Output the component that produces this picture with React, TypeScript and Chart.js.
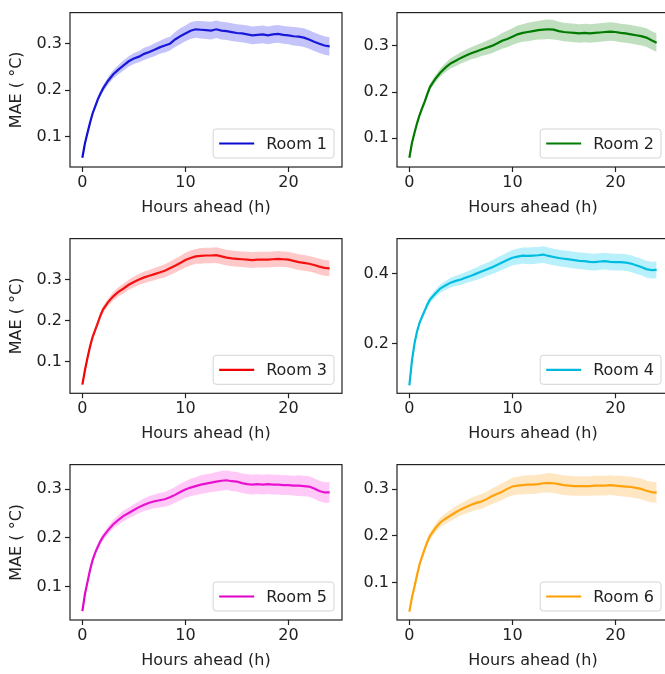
import React, { useEffect, useRef } from 'react';
import { Chart, registerables } from 'chart.js';

Chart.register(...registerables);

// ---------- data ----------
const HOURS = [0, 0.25, 0.5, 0.75, 1, 1.25, 1.5, 1.75, 2,
  2.5, 3, 3.5, 4, 4.5, 5, 5.5, 6,
  6.5, 7, 7.5, 8, 8.5, 9, 9.5, 10,
  10.5, 11, 11.5, 12, 12.5, 13, 13.5, 14,
  14.5, 15, 15.5, 16, 16.5, 17, 17.5, 18,
  18.5, 19, 19.5, 20, 20.5, 21, 21.5, 22,
  22.5, 23, 23.5, 24];

const ROOM1_MAE = [0.054, 0.085, 0.108, 0.130, 0.150, 0.165, 0.180, 0.192, 0.203,
  0.220, 0.234, 0.244, 0.253, 0.262, 0.268, 0.272, 0.278,
  0.282, 0.287, 0.292, 0.296, 0.300, 0.309, 0.316, 0.322,
  0.328, 0.331, 0.330, 0.329, 0.328, 0.331, 0.328, 0.327,
  0.325, 0.323, 0.322, 0.320, 0.318, 0.319, 0.320, 0.318,
  0.320, 0.321, 0.319, 0.318, 0.316, 0.315, 0.313, 0.309,
  0.304, 0.300, 0.296, 0.294];
const ROOM1_SPREAD = [0.002, 0.003, 0.004, 0.004, 0.005, 0.005, 0.006, 0.006, 0.007,
  0.008, 0.009, 0.010, 0.011, 0.011, 0.012, 0.012, 0.013,
  0.013, 0.014, 0.014, 0.015, 0.015, 0.016, 0.017, 0.017,
  0.018, 0.018, 0.019, 0.019, 0.019, 0.019, 0.019, 0.019,
  0.019, 0.019, 0.019, 0.019, 0.019, 0.019, 0.019, 0.019,
  0.019, 0.019, 0.019, 0.019, 0.020, 0.020, 0.020, 0.020,
  0.020, 0.020, 0.020, 0.020];

const ROOM2_MAE = [0.058, 0.090, 0.112, 0.133, 0.151, 0.166, 0.180, 0.196, 0.211,
  0.228, 0.242, 0.253, 0.262, 0.268, 0.274, 0.279, 0.284,
  0.288, 0.292, 0.296, 0.300, 0.305, 0.311, 0.315, 0.320,
  0.325, 0.328, 0.330, 0.332, 0.334, 0.335, 0.336, 0.335,
  0.332, 0.330, 0.329, 0.328, 0.327, 0.328, 0.327, 0.328,
  0.329, 0.330, 0.331, 0.330, 0.328, 0.327, 0.325, 0.323,
  0.321, 0.318, 0.312, 0.307];
const ROOM2_SPREAD = [0.002, 0.003, 0.004, 0.005, 0.005, 0.006, 0.006, 0.007, 0.007,
  0.008, 0.009, 0.010, 0.011, 0.012, 0.012, 0.013, 0.013,
  0.014, 0.014, 0.015, 0.016, 0.016, 0.017, 0.018, 0.018,
  0.019, 0.019, 0.020, 0.020, 0.020, 0.021, 0.021, 0.021,
  0.020, 0.020, 0.020, 0.020, 0.020, 0.020, 0.020, 0.020,
  0.020, 0.020, 0.020, 0.020, 0.020, 0.020, 0.020, 0.020,
  0.020, 0.020, 0.020, 0.020];

const ROOM3_MAE = [0.045, 0.080, 0.110, 0.138, 0.161, 0.178, 0.195, 0.212, 0.227,
  0.245, 0.259, 0.270, 0.278, 0.287, 0.294, 0.300, 0.305,
  0.309, 0.313, 0.317, 0.321, 0.327, 0.333, 0.340, 0.347,
  0.352, 0.356, 0.357, 0.358, 0.358, 0.359, 0.356, 0.353,
  0.351, 0.350, 0.349, 0.348, 0.347, 0.348, 0.348, 0.348,
  0.349, 0.350, 0.349, 0.348, 0.345, 0.342, 0.340, 0.338,
  0.335, 0.331, 0.328, 0.327];
const ROOM3_SPREAD = [0.002, 0.003, 0.004, 0.005, 0.005, 0.006, 0.007, 0.007, 0.008,
  0.009, 0.010, 0.011, 0.012, 0.012, 0.013, 0.013, 0.014,
  0.014, 0.015, 0.015, 0.016, 0.016, 0.017, 0.017, 0.018,
  0.018, 0.018, 0.019, 0.019, 0.019, 0.019, 0.019, 0.019,
  0.019, 0.019, 0.019, 0.019, 0.019, 0.019, 0.019, 0.019,
  0.019, 0.019, 0.019, 0.019, 0.019, 0.019, 0.019, 0.019,
  0.019, 0.019, 0.019, 0.019];

const ROOM4_MAE = [0.079, 0.150, 0.200, 0.235, 0.260, 0.278, 0.295, 0.312, 0.326,
  0.343, 0.358, 0.367, 0.375, 0.380, 0.384, 0.390, 0.395,
  0.401, 0.407, 0.413, 0.419, 0.426, 0.433, 0.440, 0.447,
  0.450, 0.453, 0.452, 0.453, 0.454, 0.456, 0.452, 0.449,
  0.446, 0.444, 0.442, 0.440, 0.438, 0.437, 0.435, 0.434,
  0.436, 0.437, 0.435, 0.434, 0.434, 0.433, 0.430, 0.425,
  0.420, 0.414, 0.411, 0.412];
const ROOM4_SPREAD = [0.003, 0.004, 0.005, 0.006, 0.007, 0.008, 0.009, 0.010, 0.010,
  0.011, 0.012, 0.013, 0.014, 0.015, 0.016, 0.016, 0.017,
  0.018, 0.019, 0.019, 0.020, 0.021, 0.021, 0.022, 0.022,
  0.023, 0.023, 0.024, 0.024, 0.024, 0.024, 0.024, 0.024,
  0.024, 0.024, 0.024, 0.024, 0.024, 0.024, 0.024, 0.024,
  0.024, 0.024, 0.024, 0.024, 0.024, 0.024, 0.024, 0.024,
  0.024, 0.024, 0.024, 0.024];

const ROOM5_MAE = [0.050, 0.085, 0.110, 0.135, 0.155, 0.170, 0.182, 0.193, 0.202,
  0.216, 0.228, 0.237, 0.245, 0.251, 0.257, 0.263, 0.268,
  0.272, 0.275, 0.277, 0.279, 0.283, 0.288, 0.294, 0.299,
  0.303, 0.306, 0.309, 0.311, 0.313, 0.315, 0.317, 0.318,
  0.316, 0.315, 0.312, 0.310, 0.309, 0.310, 0.309, 0.310,
  0.309, 0.309, 0.308, 0.308, 0.307, 0.307, 0.306, 0.305,
  0.301, 0.296, 0.293, 0.293];
const ROOM5_SPREAD = [0.002, 0.003, 0.004, 0.005, 0.005, 0.006, 0.006, 0.007, 0.007,
  0.008, 0.009, 0.010, 0.011, 0.011, 0.012, 0.012, 0.013,
  0.014, 0.014, 0.015, 0.015, 0.016, 0.016, 0.017, 0.017,
  0.018, 0.018, 0.019, 0.019, 0.019, 0.020, 0.020, 0.020,
  0.020, 0.020, 0.020, 0.020, 0.020, 0.020, 0.020, 0.020,
  0.020, 0.020, 0.020, 0.020, 0.020, 0.021, 0.021, 0.021,
  0.021, 0.021, 0.021, 0.021];

const ROOM6_MAE = [0.038, 0.068, 0.092, 0.117, 0.140, 0.157, 0.173, 0.188, 0.200,
  0.216, 0.229, 0.237, 0.244, 0.251, 0.257, 0.262, 0.267,
  0.271, 0.274, 0.279, 0.285, 0.290, 0.295, 0.301, 0.306,
  0.308, 0.309, 0.310, 0.310, 0.311, 0.313, 0.314, 0.313,
  0.311, 0.309, 0.308, 0.307, 0.307, 0.307, 0.307, 0.308,
  0.308, 0.308, 0.309, 0.308, 0.307, 0.306, 0.305, 0.303,
  0.301, 0.297, 0.294, 0.293];
const ROOM6_SPREAD = [0.002, 0.003, 0.004, 0.005, 0.006, 0.006, 0.007, 0.008, 0.008,
  0.009, 0.010, 0.011, 0.012, 0.013, 0.013, 0.014, 0.015,
  0.015, 0.016, 0.016, 0.017, 0.017, 0.018, 0.018, 0.019,
  0.019, 0.020, 0.020, 0.020, 0.020, 0.020, 0.021, 0.021,
  0.021, 0.021, 0.021, 0.021, 0.021, 0.021, 0.021, 0.021,
  0.021, 0.021, 0.021, 0.021, 0.022, 0.022, 0.022, 0.022,
  0.022, 0.022, 0.022, 0.022];

const ROOM_LABELS = ['Room 1', 'Room 2', 'Room 3', 'Room 4', 'Room 5', 'Room 6'];
const ROOM_MEANS = [ROOM1_MAE, ROOM2_MAE, ROOM3_MAE, ROOM4_MAE, ROOM5_MAE, ROOM6_MAE];
const ROOM_SPREADS = [ROOM1_SPREAD, ROOM2_SPREAD, ROOM3_SPREAD, ROOM4_SPREAD, ROOM5_SPREAD, ROOM6_SPREAD];

const Y_MIN = [0.034, 0.038, 0.024, 0.056, 0.032, 0.020];
const Y_MAX = [0.367, 0.372, 0.399, 0.502, 0.350, 0.353];
const Y_TICKS_MAIN = [0.1, 0.2, 0.3];
const Y_TICKS_ROOM4 = [0.2, 0.4];
const X_TICKS = [0, 10, 20];
const X_MIN = -1.2;
const X_MAX = 25.2;

const X_TITLE = 'Hours ahead (h)';
const Y_TITLE = 'MAE ( °C)';

// ---------- style ----------
const LINE_COLORS = ['#0a0ad0', '#007a00', '#f00000', '#00b8dc', '#e000c8', '#ffa000'];
const BAND_COLORS = [
  'rgba(60, 60, 240, 0.30)',
  'rgba(0, 128, 0, 0.25)',
  'rgba(255, 60, 60, 0.28)',
  'rgba(0, 200, 240, 0.28)',
  'rgba(255, 60, 230, 0.28)',
  'rgba(255, 170, 40, 0.28)',
];
const FONT = '"DejaVu Sans", sans-serif';
const FONT_SIZE = 16;
const LINE_H = FONT_SIZE * 1.2;
const TEXT_COLOR = '#222222';

// page layout (px)
const COLS = [
  { cx: 0, cw: 346, L: 70, R: 342 },
  { cx: 346, cw: 334, L: 397, R: 669 },
];
const ROWS = [
  { cy: 0, ch: 226, T: 7.5, B: 167 },
  { cy: 226, ch: 226, T: 233.3, B: 393.3 },
  { cy: 452, ch: 222, T: 460.7, B: 620 },
];

const framePlugin = {
  id: 'frame',
  afterDraw(chart: any) {
    const { ctx, chartArea: a } = chart;
    ctx.save();
    ctx.strokeStyle = TEXT_COLOR;
    ctx.lineWidth = 1.2;
    ctx.strokeRect(a.left, a.top, a.right - a.left, a.bottom - a.top);
    ctx.restore();
  },
};

const boxLegendPlugin = {
  id: 'boxLegend',
  afterDraw(chart: any) {
    const ds = chart.data.datasets[2];
    const { ctx, chartArea: a } = chart;
    ctx.save();
    ctx.font = `${FONT_SIZE}px ${FONT}`;
    const tw = ctx.measureText(ds.label).width;
    const w = 6 + 35 + 12 + tw + 7;
    const h = 29;
    const x = a.right - 8 - w;
    const y = a.bottom - 9 - h;
    ctx.beginPath();
    ctx.roundRect(x, y, w, h, 3);
    ctx.fillStyle = 'rgba(255,255,255,0.85)';
    ctx.fill();
    ctx.strokeStyle = '#d4d4d4';
    ctx.lineWidth = 1;
    ctx.stroke();
    ctx.beginPath();
    ctx.moveTo(x + 6, y + h / 2);
    ctx.lineTo(x + 41, y + h / 2);
    ctx.strokeStyle = ds.borderColor;
    ctx.lineWidth = 2.2;
    ctx.stroke();
    ctx.fillStyle = TEXT_COLOR;
    ctx.textBaseline = 'middle';
    ctx.textAlign = 'left';
    ctx.fillText(ds.label, x + 53, y + h / 2 + 1);
    ctx.restore();
  },
};

function Panel({ idx }: { idx: number }) {
  const ref = useRef<HTMLCanvasElement>(null);
  const col = COLS[idx % 2];
  const row = ROWS[Math.floor(idx / 2)];
  const showYTitle = idx % 2 === 0;

  useEffect(() => {
    const mean = ROOM_MEANS[idx];
    const spread = ROOM_SPREADS[idx];
    const lower = HOURS.map((h, i) => ({ x: h, y: mean[i] - spread[i] }));
    const upper = HOURS.map((h, i) => ({ x: h, y: mean[i] + spread[i] }));
    const line = HOURS.map((h, i) => ({ x: h, y: mean[i] }));
    const yTicks = idx === 3 ? Y_TICKS_ROOM4 : Y_TICKS_MAIN;

    const padTop = row.T - row.cy;
    const padRight = col.cx + col.cw - col.R;
    const xAxisH = row.cy + row.ch - row.B;
    const yAxisW = col.L - col.cx;
    const xTitlePadBottom = Math.max(0, row.cy + row.ch - (row.B + 41) - LINE_H / 2);

    const font = { family: FONT, size: FONT_SIZE };

    const chart = new Chart(ref.current as HTMLCanvasElement, {
      type: 'line',
      data: {
        datasets: [
          {
            label: 'lower',
            data: lower,
            borderWidth: 0,
            borderColor: 'rgba(0,0,0,0)',
            pointRadius: 0,
            fill: false,
          },
          {
            label: 'upper',
            data: upper,
            borderWidth: 0,
            borderColor: 'rgba(0,0,0,0)',
            backgroundColor: BAND_COLORS[idx],
            pointRadius: 0,
            fill: '-1',
          },
          {
            label: ROOM_LABELS[idx],
            data: line,
            borderColor: LINE_COLORS[idx],
            borderWidth: 2.2,
            pointRadius: 0,
            fill: false,
            tension: 0,
          },
        ],
      },
      options: {
        animation: false,
        responsive: false,
        devicePixelRatio: 1,
        layout: { padding: { top: padTop, right: padRight, left: 0, bottom: 0 } },
        plugins: {
          legend: { display: false },
          tooltip: { enabled: false },
        },
        scales: {
          x: {
            type: 'linear',
            min: X_MIN,
            max: X_MAX,
            afterBuildTicks: (s: any) => {
              s.ticks = X_TICKS.map((v) => ({ value: v }));
            },
            afterFit: (s: any) => {
              s.height = xAxisH;
            },
            ticks: {
              font,
              color: TEXT_COLOR,
              padding: 1,
              maxRotation: 0,
              autoSkip: false,
              callback: (v: any) => String(v),
            },
            grid: {
              display: true,
              drawOnChartArea: false,
              drawTicks: true,
              tickLength: 5,
              tickColor: TEXT_COLOR,
              tickWidth: 1.2,
            },
            border: { display: false },
            title: {
              display: true,
              text: X_TITLE,
              font,
              color: TEXT_COLOR,
              padding: { top: 0, bottom: xTitlePadBottom },
            },
          },
          y: {
            type: 'linear',
            min: Y_MIN[idx],
            max: Y_MAX[idx],
            afterBuildTicks: (s: any) => {
              s.ticks = yTicks.map((v) => ({ value: v }));
            },
            afterFit: (s: any) => {
              s.width = yAxisW;
            },
            ticks: {
              font,
              color: TEXT_COLOR,
              padding: 3,
              autoSkip: false,
              callback: (v: any) => Number(v).toFixed(1),
            },
            grid: {
              display: true,
              drawOnChartArea: false,
              drawTicks: true,
              tickLength: 5,
              tickColor: TEXT_COLOR,
              tickWidth: 1.2,
            },
            border: { display: false },
            title: {
              display: showYTitle,
              text: Y_TITLE,
              font,
              color: TEXT_COLOR,
              padding: { top: 7.1, bottom: 0 },
            },
          },
        },
      } as any,
      plugins: [framePlugin, boxLegendPlugin],
    });
    return () => chart.destroy();
  }, [idx]);

  return (
    <canvas
      ref={ref}
      width={col.cw}
      height={row.ch}
      style={{ position: 'absolute', left: col.cx, top: row.cy, width: col.cw, height: row.ch }}
    />
  );
}

export default function App() {
  return (
    <div
      style={{
        position: 'absolute',
        left: 0,
        top: 0,
        width: 665,
        height: 674,
        overflow: 'hidden',
        background: '#ffffff',
      }}
    >
      {ROOM_LABELS.map((_, i) => (
        <Panel key={i} idx={i} />
      ))}
    </div>
  );
}
